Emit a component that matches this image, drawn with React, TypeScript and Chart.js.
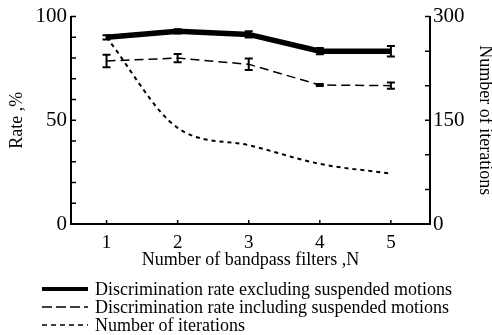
import React, { useEffect, useRef } from "react";
import { Chart, registerables } from "chart.js";

Chart.register(...registerables);

const filters = [1, 2, 3, 4, 5];
const rateExcluding = [90.0, 92.9, 91.4, 83.3, 83.3];
const rateExcludingErr = [1, 1, 1.5, 1.5, 2.5];
const rateIncluding = [78.6, 80.0, 77.0, 67.0, 66.7];
const rateIncludingErr = [3, 2, 2.8, 0.5, 1.5];
const iterations = [270, 139, 114, 87, 73];
const leftLabelValues = [0, 50, 100];
const rightLabelValues = [0, 150, 300];
const seriesLabels = [
  "Discrimination rate excluding suspended motions",
  "Discrimination rate including suspended motions",
  "Number of iterations",
];

const SERIF = "'Liberation Serif', 'Times New Roman', serif";

const errorBarPlugin = {
  id: "errorBars",
  afterDatasetsDraw(chart: any) {
    const ctx = chart.ctx;
    const xs = chart.scales.x;
    chart.data.datasets.forEach((ds: any) => {
      if (!ds.errors) return;
      const ys = chart.scales[ds.yAxisID];
      ctx.save();
      ctx.strokeStyle = "#000";
      ctx.lineWidth = 2;
      ctx.setLineDash([]);
      ds.data.forEach((p: any, i: number) => {
        const e = ds.errors[i];
        const px = xs.getPixelForValue(p.x);
        const top = ys.getPixelForValue(p.y + e);
        const bot = ys.getPixelForValue(p.y - e);
        ctx.beginPath();
        ctx.moveTo(px, top);
        ctx.lineTo(px, bot);
        ctx.moveTo(px - 4, top);
        ctx.lineTo(px + 4, top);
        ctx.moveTo(px - 4, bot);
        ctx.lineTo(px + 4, bot);
        ctx.stroke();
      });
      ctx.restore();
    });
  },
};

const inwardTicksPlugin = {
  id: "inwardTicks",
  afterDraw(chart: any) {
    const ctx = chart.ctx;
    const { x, y, y2 } = chart.scales;
    ctx.save();
    ctx.strokeStyle = "#000";
    ctx.lineWidth = 1.5;
    ctx.setLineDash([]);
    ctx.beginPath();
    y.ticks.forEach((t: any) => {
      const py = y.getPixelForValue(t.value);
      ctx.moveTo(y.right, py);
      ctx.lineTo(y.right + 5, py);
    });
    y2.ticks.forEach((t: any) => {
      const py = y2.getPixelForValue(t.value);
      ctx.moveTo(y2.left, py);
      ctx.lineTo(y2.left - 5, py);
    });
    x.ticks.forEach((t: any) => {
      const px = x.getPixelForValue(t.value);
      ctx.moveTo(px, x.top);
      ctx.lineTo(px, x.top - 4);
    });
    ctx.stroke();
    ctx.restore();
  },
};

const bottomLegendPlugin = {
  id: "bottomLegend",
  afterDraw(chart: any) {
    const ctx = chart.ctx;
    const rows = [290, 308, 326];
    ctx.save();
    ctx.font = `18px ${SERIF}`;
    ctx.fillStyle = "#000";
    ctx.textBaseline = "middle";
    ctx.textAlign = "left";
    chart.data.datasets.forEach((ds: any, i: number) => {
      const yy = rows[i];
      ctx.strokeStyle = "#000";
      ctx.lineWidth = ds.legendWidth;
      ctx.setLineDash(ds.legendDash);
      ctx.beginPath();
      ctx.moveTo(42, yy - 1);
      ctx.lineTo(88, yy - 1);
      ctx.stroke();
      ctx.setLineDash([]);
      ctx.fillText(ds.label, 95, yy);
    });
    ctx.restore();
  },
};

export default function App() {
  const ref = useRef<HTMLCanvasElement>(null);

  useEffect(() => {
    if (!ref.current) return;
    const chart = new Chart(ref.current, {
      type: "line",
      data: {
        datasets: [
          {
            label: seriesLabels[0],
            data: filters.map((f, i) => ({ x: f, y: rateExcluding[i] })),
            yAxisID: "y",
            borderColor: "#000",
            backgroundColor: "#000",
            borderWidth: 5.5,
            pointRadius: 0,
            tension: 0,
            errors: rateExcludingErr,
            legendWidth: 4,
            legendDash: [],
          } as any,
          {
            label: seriesLabels[1],
            data: filters.map((f, i) => ({ x: f, y: rateIncluding[i] })),
            yAxisID: "y",
            borderColor: "#000",
            borderWidth: 1.5,
            borderDash: [9, 5],
            pointRadius: 0,
            tension: 0,
            errors: rateIncludingErr,
            legendWidth: 1.3,
            legendDash: [10, 4],
          } as any,
          {
            label: seriesLabels[2],
            data: filters.map((f, i) => ({ x: f, y: iterations[i] })),
            yAxisID: "y2",
            borderColor: "#000",
            borderWidth: 2,
            borderDash: [4, 4],
            pointRadius: 0,
            cubicInterpolationMode: "monotone",
            legendWidth: 1.3,
            legendDash: [5, 4],
          } as any,
        ],
      },
      options: {
        animation: false,
        responsive: false,
        devicePixelRatio: 1,
        layout: { padding: { top: 14, left: 0, right: 0, bottom: 0 } },
        plugins: {
          legend: { display: false },
          tooltip: { enabled: false },
        },
        scales: {
          x: {
            type: "linear",
            position: "bottom",
            min: 0.5,
            max: 5.55,
            afterBuildTicks: (s: any) => {
              s.ticks = filters.map((v) => ({ value: v }));
            },
            afterFit: (s: any) => {
              s.height = 111;
            },
            grid: { display: false, drawTicks: false },
            border: { display: true, color: "#000", width: 2 },
            ticks: {
              color: "#000",
              font: { family: SERIF, size: 19 },
              padding: 8,
              maxRotation: 0,
              callback: (v: any) => String(v),
            },
            title: {
              display: true,
              text: "Number of bandpass filters ,N",
              color: "#000",
              font: { family: SERIF, size: 18 },
              padding: { top: 0, bottom: 64 },
            },
          },
          y: {
            type: "linear",
            position: "left",
            min: 0,
            max: 100,
            afterFit: (s: any) => {
              s.width = 71;
            },
            grid: { display: false, drawTicks: false },
            border: { display: true, color: "#000", width: 2 },
            ticks: {
              stepSize: 10,
              autoSkip: false,
              color: "#000",
              font: { family: SERIF, size: 21 },
              padding: 4,
              callback: (v: any) => (leftLabelValues.includes(v) ? String(v) : ""),
            },
            title: {
              display: true,
              text: "Rate ,%",
              color: "#000",
              font: { family: SERIF, size: 18 },
              padding: { top: 6, bottom: 0 },
            },
          },
          y2: {
            type: "linear",
            position: "right",
            min: 0,
            max: 300,
            afterFit: (s: any) => {
              s.width = 62;
            },
            grid: { display: false, drawTicks: false },
            border: { display: true, color: "#000", width: 2 },
            ticks: {
              stepSize: 50,
              autoSkip: false,
              color: "#000",
              font: { family: SERIF, size: 21 },
              padding: 3,
              callback: (v: any) => (rightLabelValues.includes(v) ? String(v) : ""),
            },
            title: {
              display: true,
              text: "Number of iterations",
              color: "#000",
              font: { family: SERIF, size: 18 },
              padding: { top: -4, bottom: 0 },
            },
          },
        },
      },
      plugins: [errorBarPlugin, inwardTicksPlugin, bottomLegendPlugin],
    } as any);
    return () => chart.destroy();
  }, []);

  return (
    <div style={{ position: "absolute", left: 0, top: 0, width: 492, height: 335, background: "#fff" }}>
      <canvas ref={ref} width={492} height={335} style={{ width: 492, height: 335 }} />
    </div>
  );
}
